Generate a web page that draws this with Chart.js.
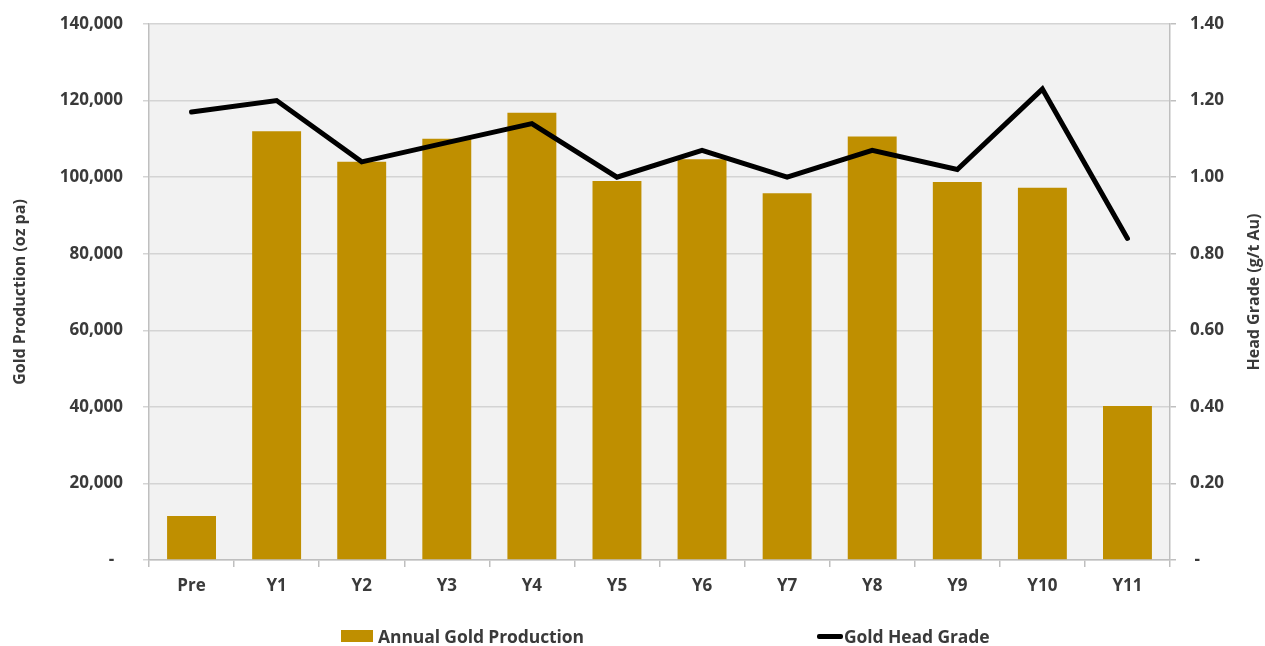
<!DOCTYPE html>
<html>
<head>
<meta charset="utf-8">
<script src="https://cdn.jsdelivr.net/npm/chart.js@4.4.1/dist/chart.umd.min.js"></script>
<style>
    html, body { margin: 0; padding: 0; background: #fff; }
    #wrap { position: relative; width: 1265px; height: 646px; }
    .lg { position: absolute; top: 624px; height: 24px; display: flex; align-items: center;
          font: bold 17.5px 'Open Sans', sans-serif; color: #3a3a3a; white-space: nowrap; letter-spacing: -0.1px; }
    .lg .box { width: 32px; height: 12px; background: #bf8f00; margin-right: 5px; }
    .lg .ln { width: 26px; height: 5px; background: #000; border-radius: 2px; margin-right: 1px; }
</style>
</head>
<body>
<div id="wrap">
    <canvas id="goldChart"></canvas>
    <div class="lg" style="left:341px"><span class="box"></span>Annual Gold Production</div>
    <div class="lg" style="left:817px"><span class="ln"></span>Gold Head Grade</div>
</div>
<script>
// categories
const years = ['Pre', 'Y1', 'Y2', 'Y3', 'Y4', 'Y5', 'Y6', 'Y7', 'Y8', 'Y9', 'Y10', 'Y11'];
// Annual Gold Production (oz pa)
const production = [11500, 112000, 104000, 110000, 116800, 99000, 104700, 95800, 110600, 98700, 97200, 40200];
// Gold Head Grade (g/t Au)
const headGrade = [1.17, 1.20, 1.04, 1.09, 1.14, 1.00, 1.07, 1.00, 1.07, 1.02, 1.23, 0.84];

const textColor = '#3a3a3a';
const tickFont = { family: "'Open Sans', sans-serif", size: 17, weight: 'bold' };

// fondo gris del area de trazado
const plotBg = {
    id: 'plotBg',
    beforeDraw(chart) {
        const a = chart.chartArea, ctx = chart.ctx;
        ctx.save();
        ctx.fillStyle = '#f2f2f2';
        ctx.fillRect(a.left, a.top, a.right - a.left, a.bottom - a.top);
        ctx.restore();
    }
};

// titulo del eje derecho, leido de abajo hacia arriba
const rightTitle = {
    id: 'rightTitle',
    afterDraw(chart) {
        const a = chart.chartArea, ctx = chart.ctx;
        ctx.save();
        ctx.translate(1254, (a.top + a.bottom) / 2);
        ctx.rotate(-Math.PI / 2);
        ctx.font = "bold 16px 'Open Sans', sans-serif";
        ctx.fillStyle = textColor;
        ctx.textAlign = 'center';
        ctx.textBaseline = 'middle';
        ctx.fillText('Head Grade (g/t Au)', 0, 0);
        ctx.restore();
    }
};

// ancho fijo del eje y sin relleno extra arriba/abajo
const fitY = w => scale => {
    scale.width = w;
    scale.paddingTop = 0;
    scale.paddingBottom = 0;
};

new Chart(document.getElementById('goldChart'), {
    type: 'bar',
    data: {
        labels: years,
        datasets: [{
            type: 'line',
            label: 'Gold Head Grade',
            data: headGrade,
            yAxisID: 'y1',
            borderColor: '#000',
            borderWidth: 5,
            borderJoinStyle: 'miter',
            borderCapStyle: 'round',
            pointRadius: 0,
            tension: 0,
            order: 1
        }, {
            label: 'Annual Gold Production',
            data: production,
            yAxisID: 'y',
            backgroundColor: '#bf8f00',
            barPercentage: 0.575,
            categoryPercentage: 1,
            order: 2
        }]
    },
    options: {
        responsive: true,
        maintainAspectRatio: false,
        animation: false,
        layout: { padding: { left: 0, right: 0, top: 24, bottom: 0 } },
        plugins: { legend: { display: false }, tooltip: { enabled: false } },
        scales: {
            x: {
                offset: true,
                grid: { offset: true, drawOnChartArea: false, tickLength: 7, color: '#bfbfbf', lineWidth: 1.5 },
                border: { display: true, color: '#bfbfbf', width: 1.5 },
                ticks: { color: textColor, font: tickFont, padding: 9, maxRotation: 0 },
                afterFit(scale) { scale.height = 86; }
            },
            y: {
                position: 'left',
                min: 0, max: 140000,
                grid: { color: '#d4d4d4', lineWidth: 1.5, tickLength: 6 },
                border: { display: true, color: '#bfbfbf', width: 1.5 },
                ticks: {
                    stepSize: 20000, color: textColor, font: tickFont, padding: 20,
                    callback: v => v === 0 ? '-  ' : v.toLocaleString('en-US')
                },
                title: {
                    display: true, text: 'Gold Production (oz pa)', color: textColor,
                    font: { family: "'Open Sans', sans-serif", size: 16, weight: 'bold' },
                    padding: { top: 11, bottom: 0 }
                },
                afterFit: fitY(149)
            },
            y1: {
                position: 'right',
                min: 0, max: 1.4,
                grid: { drawOnChartArea: false, color: '#bfbfbf', lineWidth: 1.5, tickLength: 6 },
                border: { display: true, color: '#bfbfbf', width: 1.5 },
                ticks: {
                    stepSize: 0.2, color: textColor, font: tickFont, padding: 14,
                    callback: v => v === 0 ? ' -' : v.toFixed(2)
                },
                afterFit: fitY(95)
            }
        }
    },
    plugins: [plotBg, rightTitle]
});
</script>
</body>
</html>
